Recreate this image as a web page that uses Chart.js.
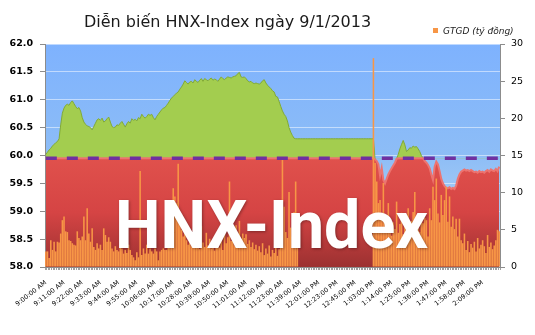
<!DOCTYPE html>
<html>
<head>
<meta charset="utf-8">
<script src="https://cdn.jsdelivr.net/npm/chart.js@4"></script>
<style>
  html, body { margin: 0; padding: 0; background: #fff; }
</style>
</head>
<body>
<canvas id="myChart" width="535" height="335"></canvas>
<script>
// 見出しと凡例
const chartTitle = 'Diễn biến HNX-Index ngày 9/1/2013';
const volumeLabel = 'GTGD (tỷ đồng)';
const watermark = 'HNX-Index';

// x軸の目盛り (11分ごと)
const tickLabels = [
    '9:00:00 AM', '9:11:00 AM', '9:22:00 AM', '9:33:00 AM', '9:44:00 AM', '9:55:00 AM',
    '10:06:00 AM', '10:17:00 AM', '10:28:00 AM', '10:39:00 AM', '10:50:00 AM', '11:01:00 AM',
    '11:12:00 AM', '11:23:00 AM', '11:39:00 AM', '12:01:00 PM', '12:23:00 PM', '12:45:00 PM',
    '1:03:00 PM', '1:14:00 PM', '1:25:00 PM', '1:36:00 PM', '1:47:00 PM', '1:58:00 PM', '2:09:00 PM'
];
const tickEvery = 11;

// 参考値 (前日終値)
const refLevel = 59.95;

// 指数 (左軸)
const indexValues = [
    60.02, 60.06, 60.10, 60.13, 60.17, 60.20, 60.23, 60.25, 60.30, 60.55,
    60.76, 60.85, 60.90, 60.92, 60.90, 60.95, 60.98, 60.93, 60.88, 60.84,
    60.86, 60.80, 60.68, 60.60, 60.56, 60.53, 60.52, 60.50, 60.46, 60.52,
    60.58, 60.64, 60.66, 60.63, 60.67, 60.60, 60.62, 60.66, 60.69, 60.60,
    60.52, 60.50, 60.51, 60.55, 60.54, 60.58, 60.61, 60.56, 60.51, 60.57,
    60.61, 60.58, 60.66, 60.63, 60.65, 60.62, 60.68, 60.66, 60.74, 60.70,
    60.67, 60.70, 60.74, 60.72, 60.74, 60.68, 60.64, 60.70, 60.74, 60.78,
    60.82, 60.85, 60.86, 60.90, 60.94, 60.99, 61.03, 61.06, 61.09, 61.12,
    61.14, 61.19, 61.23, 61.28, 61.34, 61.31, 61.28, 61.32, 61.33, 61.30,
    61.36, 61.33, 61.31, 61.35, 61.38, 61.33, 61.38, 61.36, 61.34, 61.37,
    61.39, 61.35, 61.37, 61.36, 61.33, 61.37, 61.41, 61.38, 61.36, 61.39,
    61.41, 61.40, 61.39, 61.41, 61.42, 61.43, 61.47, 61.49, 61.41, 61.40,
    61.41, 61.38, 61.34, 61.32, 61.33, 61.30, 61.29, 61.30, 61.29, 61.28,
    61.30, 61.34, 61.36, 61.30, 61.26, 61.23, 61.20, 61.16, 61.14, 61.06,
    61.05, 60.97, 60.88, 60.80, 60.74, 60.70, 60.62, 60.50, 60.42, 60.36,
    60.31, 60.30, 60.30, 60.30, 60.30, 60.30, 60.30, 60.30, 60.30, 60.30,
    60.30, 60.30, 60.30, 60.30, 60.30, 60.30, 60.30, 60.30, 60.30, 60.30,
    60.30, 60.30, 60.30, 60.30, 60.30, 60.30, 60.30, 60.30, 60.30, 60.30,
    60.30, 60.30, 60.30, 60.30, 60.30, 60.30, 60.30, 60.30, 60.30, 60.30,
    60.30, 60.30, 60.30, 60.30, 60.30, 60.30, 60.30, 60.30, 60.30, 59.93,
    59.90, 59.84, 59.64, 59.78, 59.56, 59.50, 59.58, 59.66, 59.72, 59.77,
    59.82, 59.87, 59.94, 60.02, 60.12, 60.20, 60.27, 60.19, 60.07, 60.10,
    60.14, 60.13, 60.17, 60.15, 60.16, 60.12, 60.07, 60.00, 59.95, 59.90,
    59.87, 59.83, 59.77, 59.66, 59.56, 59.80, 59.89, 59.84, 59.72, 59.58,
    59.50, 59.45, 59.42, 59.41, 59.43, 59.40, 59.42, 59.40, 59.46, 59.58,
    59.66, 59.71, 59.73, 59.75, 59.73, 59.74, 59.72, 59.74, 59.72, 59.70,
    59.71, 59.69, 59.72, 59.70, 59.71, 59.69, 59.72, 59.74, 59.71, 59.75,
    59.73, 59.72, 59.76, 59.72, 59.80
];

// 取引額 (右軸, 十億ドン)
const volumeValues = [
    2.1, 2.1, 1.2, 3.6, 2.3, 3.4, 2.1, 3.4, 3.3, 4.5,
    6.3, 6.8, 4.8, 4.7, 3.6, 3.5, 3.2, 3.0, 2.9, 4.8,
    3.9, 3.6, 4.1, 6.8, 3.6, 7.9, 4.5, 3.4, 5.2, 2.7,
    2.3, 3.2, 2.5, 3.0, 2.3, 5.2, 4.3, 3.4, 4.0, 3.4,
    2.5, 2.1, 2.8, 2.3, 2.1, 3.0, 2.5, 1.8, 2.3, 1.9,
    3.0, 2.3, 1.6, 1.3, 0.9, 2.0, 1.3, 12.9, 1.6, 2.5,
    1.8, 3.0, 1.8, 2.5, 2.1, 1.8, 2.5, 2.1, 0.9, 2.1,
    2.3, 2.5, 2.3, 2.3, 3.0, 3.2, 7.7, 10.6, 9.5, 8.6,
    13.9, 6.8, 5.0, 4.1, 5.2, 3.6, 3.0, 4.2, 2.8, 3.5,
    2.6, 4.0, 3.1, 2.4, 5.5, 3.3, 2.7, 4.6, 2.9, 3.8,
    2.5, 3.4, 2.2, 4.4, 3.0, 2.6, 3.9, 2.3, 5.1, 3.2,
    4.0, 11.5, 3.5, 4.8, 2.9, 5.6, 4.3, 6.2, 3.7, 4.5,
    3.9, 4.4, 3.1, 3.6, 2.7, 3.3, 2.4, 3.0, 2.2, 2.8,
    2.0, 3.2, 1.6, 2.5, 1.8, 2.9, 1.4, 2.3, 1.9, 2.7,
    1.5, 2.4, 3.4, 14.4, 8.1, 4.7, 3.9, 10.1, 5.3, 4.1,
    7.4, 11.5, 4.4, 0, 0, 0, 0, 0, 0, 0,
    0, 0, 0, 0, 0, 0, 0, 0, 0, 0,
    0, 0, 0, 0, 0, 0, 0, 0, 0, 0,
    0, 0, 0, 0, 0, 0, 0, 0, 0, 0,
    0, 0, 0, 0, 0, 0, 0, 0, 28.1, 14.0,
    11.5, 8.6, 9.0, 6.3, 11.3, 6.8, 5.4, 8.6, 5.0, 4.2,
    6.0, 5.1, 8.8, 4.6, 5.8, 7.3, 4.4, 6.5, 5.2, 7.9,
    4.8, 6.2, 7.4, 10.1, 5.5, 6.9, 4.7, 7.0, 5.9, 6.6,
    6.3, 4.1, 7.9, 6.3, 10.8, 9.0, 11.9, 7.2, 6.0, 9.7,
    7.0, 9.0, 10.8, 6.1, 9.5, 5.4, 6.8, 5.1, 6.5, 4.1,
    6.5, 3.6, 3.2, 4.5, 2.3, 3.5, 2.0, 3.1, 2.6, 3.4,
    2.1, 3.9, 2.5, 3.0, 3.6, 2.8, 1.9, 4.3, 2.7, 3.3,
    2.4, 2.9, 3.6, 5.0, 4.8
];

// 各分のラベル (目盛りのある位置だけ文字を入れる)
const labels = indexValues.map((v, i) => (i % tickEvery === 0 ? (tickLabels[i / tickEvery] || '') : ''));
const belowRef = indexValues.map(v => Math.min(v, refLevel));
const refLine = indexValues.map(() => refLevel);

// 赤い面のグラデーション
function redFill(context) {
    const { ctx, chartArea, scales } = context.chart;
    if (!chartArea) return '#D84444';
    const top = scales.y.getPixelForValue(refLevel);
    const g = ctx.createLinearGradient(0, top, 0, chartArea.bottom);
    g.addColorStop(0, '#E0514C');
    g.addColorStop(0.5, '#D54444');
    g.addColorStop(1, '#9C3131');
    return g;
}

// 背景・見出し・透かし文字
const decorations = {
    id: 'decorations',
    beforeDraw(chart) {
        const { ctx, chartArea } = chart;
        const g = ctx.createLinearGradient(0, chartArea.top, 0, chartArea.bottom);
        g.addColorStop(0, '#7EB2FE');
        g.addColorStop(0.5, '#8DBDF6');
        g.addColorStop(1, '#C6DDF2');
        ctx.save();
        ctx.fillStyle = g;
        ctx.fillRect(chartArea.left, chartArea.top, chartArea.right - chartArea.left, chartArea.bottom - chartArea.top);
        ctx.restore();
    },
    afterDatasetsDraw(chart) {
        const ctx = chart.ctx;
        ctx.save();
        ctx.font = 'bold 67px Roboto';
        const w = ctx.measureText(watermark).width;
        ctx.translate(115, 248);
        ctx.scale(313 / w, 1);
        ctx.shadowColor = 'rgba(0,0,0,0.35)';
        ctx.shadowBlur = 3;
        ctx.shadowOffsetX = 1;
        ctx.shadowOffsetY = 1;
        ctx.fillStyle = '#ffffff';
        ctx.textBaseline = 'alphabetic';
        ctx.fillText(watermark, 0, 0);
        ctx.restore();
    },
    afterDraw(chart) {
        const ctx = chart.ctx;
        ctx.save();
        ctx.fillStyle = '#1a1a1a';
        ctx.textBaseline = 'alphabetic';
        ctx.font = '16px "DejaVu Sans"';
        ctx.fillText(chartTitle, 84, 27);
        ctx.fillStyle = '#F79646';
        ctx.fillRect(433, 28, 5, 5);
        ctx.fillStyle = '#222';
        ctx.font = 'italic 9px "DejaVu Sans"';
        ctx.fillText(volumeLabel, 443, 34);
        ctx.restore();
    }
};

const axisGray = '#8c8c8c';
const ctx = document.getElementById('myChart').getContext('2d');
new Chart(ctx, {
    data: {
        labels: labels,
        datasets: [
            {
                type: 'line',
                label: 'HNX-Index',
                data: indexValues,
                yAxisID: 'y',
                order: 4,
                borderColor: '#82AA36',
                borderWidth: 1,
                segment: {
                    borderColor: c => (c.p0.parsed.y < refLevel && c.p1.parsed.y < refLevel) ? 'rgba(0,0,0,0)' : undefined
                },
                pointRadius: 0,
                tension: 0,
                fill: { target: { value: refLevel }, above: '#A3CD4F', below: 'rgba(0,0,0,0)' }
            },
            {
                type: 'line',
                label: 'below',
                data: belowRef,
                yAxisID: 'y',
                order: 3,
                borderColor: '#EC7470',
                borderWidth: 2,
                pointRadius: 0,
                tension: 0,
                backgroundColor: redFill,
                fill: 'start'
            },
            {
                type: 'bar',
                label: volumeLabel,
                data: volumeValues,
                yAxisID: 'y1',
                order: 2,
                backgroundColor: '#F79646',
                barPercentage: 0.95,
                categoryPercentage: 1.0
            },
            {
                type: 'line',
                label: 'ref',
                data: refLine,
                yAxisID: 'y',
                order: 1,
                borderColor: '#7030A0',
                borderWidth: 3.5,
                borderDash: [11, 10],
                pointRadius: 0,
                fill: false
            }
        ]
    },
    options: {
        responsive: false,
        animation: false,
        layout: { padding: { top: 44 } },
        plugins: {
            legend: { display: false },
            tooltip: { enabled: false }
        },
        scales: {
            x: {
                offset: true,
                grid: { display: true, drawOnChartArea: false, offset: true, tickLength: 3, tickColor: '#a0a0a0' },
                border: { color: axisGray },
                ticks: {
                    autoSkip: false,
                    minRotation: 38,
                    maxRotation: 38,
                    padding: 9,
                    color: '#000',
                    font: { family: 'DejaVu Sans', size: 6.5 }
                },
                afterFit: s => { s.height = 68; }
            },
            y: {
                position: 'left',
                min: 58,
                max: 62,
                ticks: {
                    stepSize: 0.5,
                    padding: 7,
                    color: '#000',
                    font: { family: 'DejaVu Sans', size: 9.5, weight: 'bold' },
                    callback: v => v.toFixed(1)
                },
                grid: { color: 'rgba(255,255,255,0.5)', tickColor: axisGray, tickLength: 5 },
                border: { color: axisGray },
                afterFit: s => { s.width = 45; }
            },
            y1: {
                position: 'right',
                min: 0,
                max: 30,
                ticks: {
                    stepSize: 5,
                    padding: 6,
                    color: '#000',
                    font: { family: 'DejaVu Sans', size: 9.5 }
                },
                grid: { drawOnChartArea: false, tickColor: axisGray, tickLength: 5 },
                border: { color: axisGray },
                afterFit: s => { s.width = 35; }
            }
        }
    },
    plugins: [decorations]
});
</script>
</body>
</html>
